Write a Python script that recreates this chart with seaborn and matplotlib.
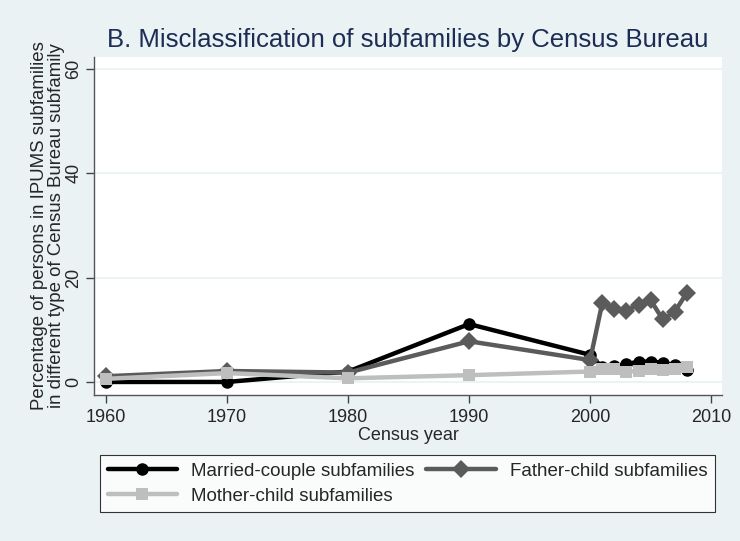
import numpy as np
import pandas as pd
import seaborn as sns
import matplotlib
matplotlib.use("Agg")
import matplotlib.pyplot as plt

years = [1960, 1970, 1980, 1990, 2000, 2001, 2002, 2003, 2004, 2005, 2006, 2007, 2008]
married = [0.0, 0.0, 2.0, 11.1, 5.2, 2.8, 3.0, 3.4, 3.9, 3.9, 3.7, 3.2, 2.2]
father = [1.1, 2.1, 1.8, 7.8, 4.2, 15.1, 14.0, 13.7, 14.8, 15.7, 12.0, 13.5, 17.1]
mother = [0.6, 1.7, 0.7, 1.3, 2.0, 2.4, 2.5, 2.0, 2.1, 2.4, 2.3, 2.4, 2.9]

series_names = ["Married-couple subfamilies", "Father-child subfamilies", "Mother-child subfamilies"]
title = "B. Misclassification of subfamilies by Census Bureau"
ylabel = "Percentage of persons in IPUMS subfamilies\nin different type of Census Bureau subfamily"
xlabel = "Census year"
xticks = [1960, 1970, 1980, 1990, 2000, 2010]
yticks = [0, 20, 40, 60]

df = pd.DataFrame({
    "year": years * 3,
    "value": married + father + mother,
    "series": [series_names[0]] * len(years) + [series_names[1]] * len(years) + [series_names[2]] * len(years),
})

bg = "#EAF2F3"
palette = {series_names[0]: "#000000", series_names[1]: "#5b5b5b", series_names[2]: "#bebebe"}
markers = {series_names[0]: "o", series_names[1]: "D", series_names[2]: "s"}

sns.set_style("white")
plt.rcParams["font.family"] = ["Liberation Sans", "DejaVu Sans"]

fig = plt.figure(figsize=(7.4, 5.41), dpi=100, facecolor=bg)
ax = fig.add_axes([94 / 740, 1 - 395 / 541, (722 - 94) / 740, (395 - 57) / 541])
ax.set_facecolor("white")

# light horizontal grid like stata's s2color
for y in yticks:
    ax.axhline(y, color=bg, lw=1.3, zorder=0)

sns.lineplot(data=df, x="year", y="value", hue="series", style="series",
             hue_order=series_names, style_order=series_names,
             palette=palette, markers=markers, dashes=False,
             linewidth=3.2, markersize=9, markeredgewidth=0, ax=ax)

ax.set_xlim(1959.0, 2010.9)
ax.set_ylim(-2.5, 62.3)
ax.set_xticks(xticks)
ax.set_yticks(yticks)
ax.set_yticklabels([str(t) for t in yticks], rotation=90, va="center")
ax.tick_params(axis="both", direction="out", length=5.5, width=1, color="#444444",
               labelsize=13, bottom=True, left=True)
ax.tick_params(axis="x", pad=4.5)
ax.tick_params(axis="y", pad=3)

for side in ["top", "right"]:
    ax.spines[side].set_visible(False)
for side in ["left", "bottom"]:
    ax.spines[side].set_color("#555555")
    ax.spines[side].set_linewidth(1.0)

ax.set_xlabel(xlabel, fontsize=13, labelpad=1)
ax.set_ylabel(ylabel, fontsize=13.4, labelpad=0, linespacing=1.0)
ax.set_title(title, fontsize=18.5, color="#1c2d55", pad=7)

handles, labels = ax.get_legend_handles_labels()
ax.get_legend().remove()
order = [0, 2, 1]
leg = fig.legend([handles[i] for i in order], [labels[i] for i in order],
                 loc="upper left", ncol=2, mode="expand",
                 bbox_to_anchor=(100 / 740, 1 - 455 / 541, 615 / 740, 0),
                 borderaxespad=0,
                 frameon=True, fancybox=False, fontsize=13.5, handlelength=3.7,
                 handletextpad=0.75, borderpad=0.4, labelspacing=0.42, columnspacing=1.0)
leg.get_frame().set_edgecolor("black")
leg.get_frame().set_linewidth(0.8)
leg.get_frame().set_facecolor("white")

fig.savefig("out.png", dpi=100, facecolor=bg)
